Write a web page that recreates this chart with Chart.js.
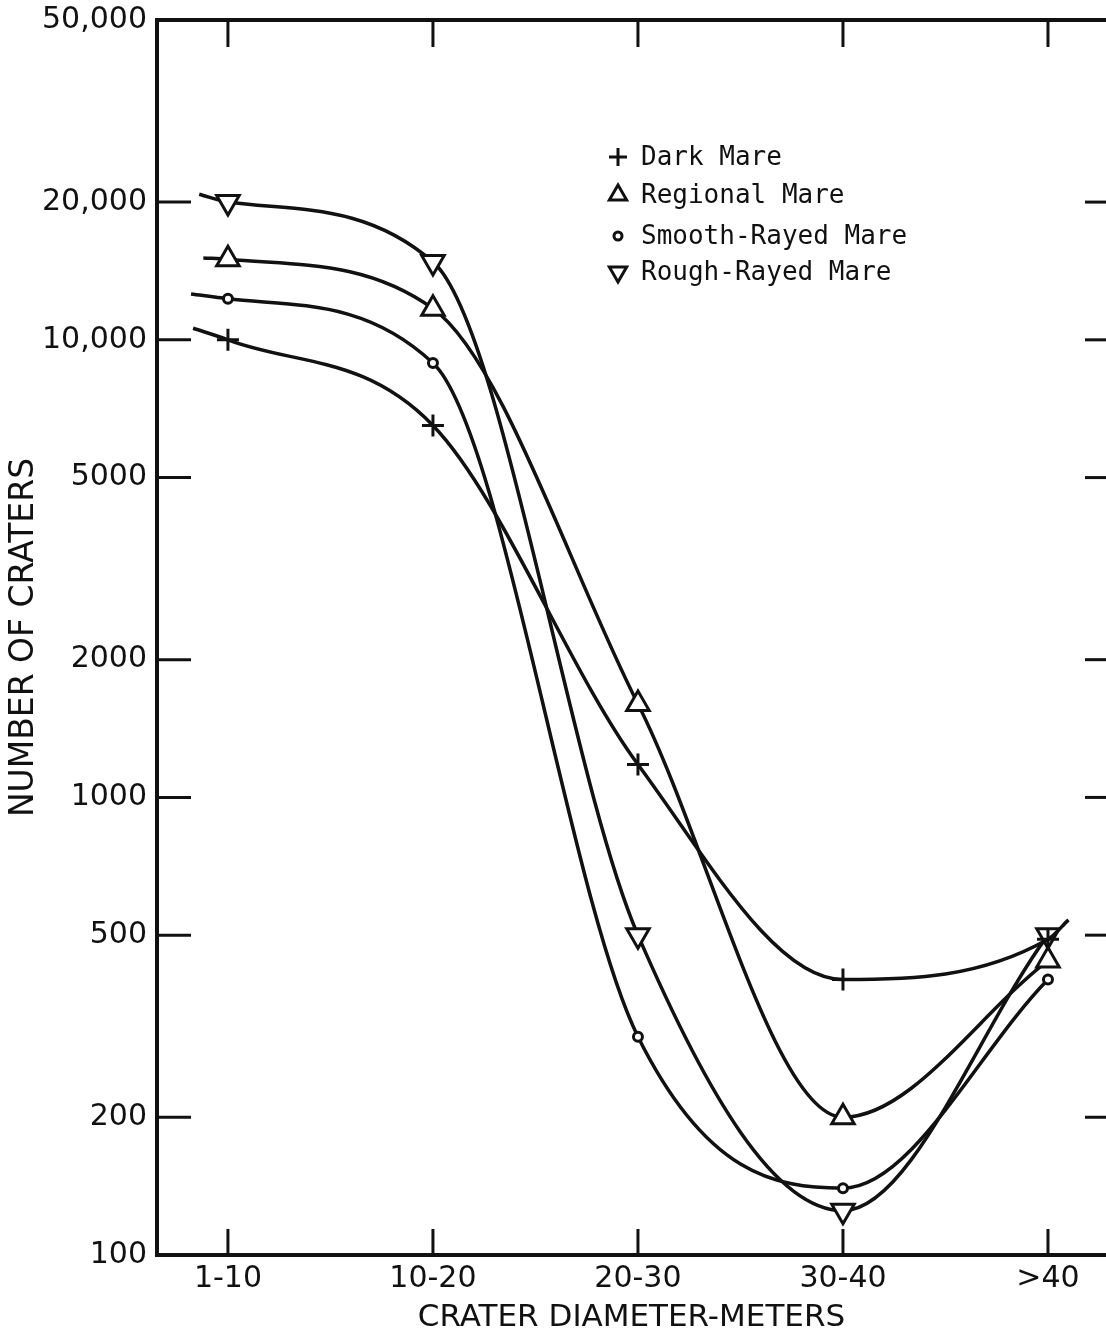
<!DOCTYPE html>
<html lang="en">
  <head>
    <meta charset="utf-8" />
    <title>Crater counts by diameter</title>
    <style>
      * {
        margin: 0;
        padding: 0;
      }
      html,
      body {
        background: #fff;
        overflow: hidden;
      }
      .chartBox {
        width: 1106px;
        height: 1338px;
      }
    </style>
  </head>
  <body>
    <div class="chartBox">
      <canvas id="myChart"></canvas>
    </div>

    <script src="https://cdn.jsdelivr.net/npm/chart.js"></script>

    <script>
      // crater diameter classes (x positions 1..5)
      const categories = ["1-10", "10-20", "20-30", "30-40", ">40"];

      // number of craters per class
      const darkMare = [10000, 6500, 1180, 400, 490];
      const regionalMare = [15000, 11700, 1600, 200, 440];
      const smoothRayedMare = [12300, 8900, 300, 140, 400];
      const roughRayedMare = [20000, 14800, 500, 125, 500];

      // where the hand-drawn curves start / end beyond the markers [x, count]
      const darkMareEnds = [[0.83, 10600], [5.1, 540]];
      const regionalMareEnds = [[0.88, 15100]];
      const smoothRayedMareEnds = [[0.82, 12600]];
      const roughRayedMareEnds = [[0.86, 20800]];

      const yTicks = [100, 200, 500, 1000, 2000, 5000, 10000, 20000, 50000];

      const ink = "#111";

      function toPoints(values, ends) {
        const pts = values.map((v, i) => ({ x: i + 1, y: v }));
        ends.forEach(([x, y]) => pts.push({ x: x, y: y }));
        return pts.sort((a, b) => a.x - b.x);
      }

      // only the real class positions get a marker
      function markerRadius(r) {
        return (c) => (c.raw && Number.isInteger(c.raw.x) ? r : 0);
      }

      const series = [
        { label: "Dark Mare", values: darkMare, ends: darkMareEnds, style: "cross", radius: 11, rotation: 0, legendRadius: 9 },
        { label: "Regional Mare", values: regionalMare, ends: regionalMareEnds, style: "triangle", radius: 13, rotation: 0, legendRadius: 10 },
        { label: "Smooth-Rayed Mare", values: smoothRayedMare, ends: smoothRayedMareEnds, style: "circle", radius: 4.5, rotation: 0, legendRadius: 4 },
        { label: "Rough-Rayed Mare", values: roughRayedMare, ends: roughRayedMareEnds, style: "triangle", radius: 13, rotation: 180, legendRadius: 10 },
      ];

      const data = {
        datasets: series.map((s) => ({
          label: s.label,
          data: toPoints(s.values, s.ends),
          borderColor: ink,
          borderWidth: 3.5,
          backgroundColor: "#fff",
          cubicInterpolationMode: "monotone",
          pointStyle: s.style,
          pointRotation: s.rotation,
          pointRadius: markerRadius(s.radius),
          pointBorderWidth: 3,
          pointBorderColor: ink,
          pointBackgroundColor: "#fff",
          clip: false,
        })),
      };

      function line(ctx, x1, y1, x2, y2) {
        ctx.beginPath();
        ctx.moveTo(x1, y1);
        ctx.lineTo(x2, y2);
        ctx.stroke();
      }

      // frame, inward tick marks and the typed legend
      const framePlugin = {
        id: "frame",
        afterDraw(chart) {
          const {
            ctx,
            chartArea: { left, top, right, bottom },
            scales: { x, y },
          } = chart;
          ctx.save();
          ctx.strokeStyle = ink;
          ctx.lineCap = "butt";
          ctx.lineWidth = 4;
          ctx.beginPath();
          ctx.moveTo(right, top);
          ctx.lineTo(left, top);
          ctx.lineTo(left, bottom);
          ctx.lineTo(right, bottom);
          ctx.stroke();

          ctx.lineWidth = 3;
          yTicks.slice(1, -1).forEach((v) => {
            const py = y.getPixelForValue(v);
            line(ctx, left, py, left + 34, py);
            line(ctx, right - 21, py, right, py);
          });
          categories.forEach((c, i) => {
            const px = x.getPixelForValue(i + 1);
            line(ctx, px, top, px, top + 27);
            line(ctx, px, bottom, px, bottom - 26);
          });

          // legend
          const lx = 618;
          const rows = [157, 195, 236, 272];
          ctx.font = "26px 'DejaVu Sans Mono'";
          ctx.fillStyle = ink;
          ctx.textBaseline = "middle";
          ctx.textAlign = "left";
          series.forEach((s, i) => {
            ctx.save();
            ctx.fillStyle = "#fff";
            ctx.strokeStyle = ink;
            ctx.lineWidth = 3;
            Chart.helpers.drawPoint(
              ctx,
              {
                pointStyle: s.style,
                radius: s.legendRadius,
                rotation: s.rotation,
                borderWidth: 3,
              },
              lx,
              rows[i]
            );
            ctx.restore();
            ctx.fillText(s.label, lx + 23, rows[i] + 1);
          });
          ctx.restore();
        },
      };

      const config = {
        type: "line",
        data: data,
        options: {
          responsive: true,
          maintainAspectRatio: false,
          animation: false,
          layout: {
            autoPadding: false,
            padding: { top: 20, right: 0, left: 0, bottom: 0 },
          },
          plugins: {
            legend: { display: false },
            tooltip: { enabled: false },
          },
          scales: {
            x: {
              type: "linear",
              min: 0.654,
              max: 5.283,
              bounds: "data",
              grid: { display: false, drawTicks: false },
              border: { display: false },
              afterBuildTicks: (scale) => {
                scale.ticks = categories.map((c, i) => ({ value: i + 1 }));
              },
              afterFit: (scale) => {
                scale.height = 83;
                // keep the plot running to the right edge
                scale.paddingLeft = 0;
                scale.paddingRight = 0;
              },
              ticks: {
                padding: 6,
                color: ink,
                font: { family: "DejaVu Sans", size: 30 },
                maxRotation: 0,
                autoSkip: false,
                callback: (v) => categories[v - 1],
              },
              title: {
                display: true,
                text: "CRATER DIAMETER-METERS",
                color: ink,
                font: { family: "DejaVu Sans", size: 31 },
                padding: { top: 0, bottom: 1 },
              },
            },
            y: {
              type: "logarithmic",
              min: 100,
              max: 50000,
              bounds: "data",
              grid: { display: false, drawTicks: false },
              border: { display: false },
              afterBuildTicks: (scale) => {
                scale.ticks = yTicks.map((v) => ({ value: v }));
              },
              afterFit: (scale) => {
                scale.width = 157;
                scale.paddingTop = 0;
                scale.paddingBottom = 0;
              },
              ticks: {
                padding: 10,
                color: ink,
                font: { family: "DejaVu Sans", size: 30 },
                autoSkip: false,
                callback: (v) =>
                  v >= 10000 ? v.toLocaleString("en-US") : String(v),
              },
              title: {
                display: true,
                text: "NUMBER OF CRATERS",
                color: ink,
                font: { family: "DejaVu Sans", size: 33 },
                padding: { top: 5, bottom: 0 },
              },
            },
          },
        },
        plugins: [framePlugin],
      };

      const ctx = document.getElementById("myChart");
      const myChart = new Chart(ctx, config);
    </script>
  </body>
</html>
